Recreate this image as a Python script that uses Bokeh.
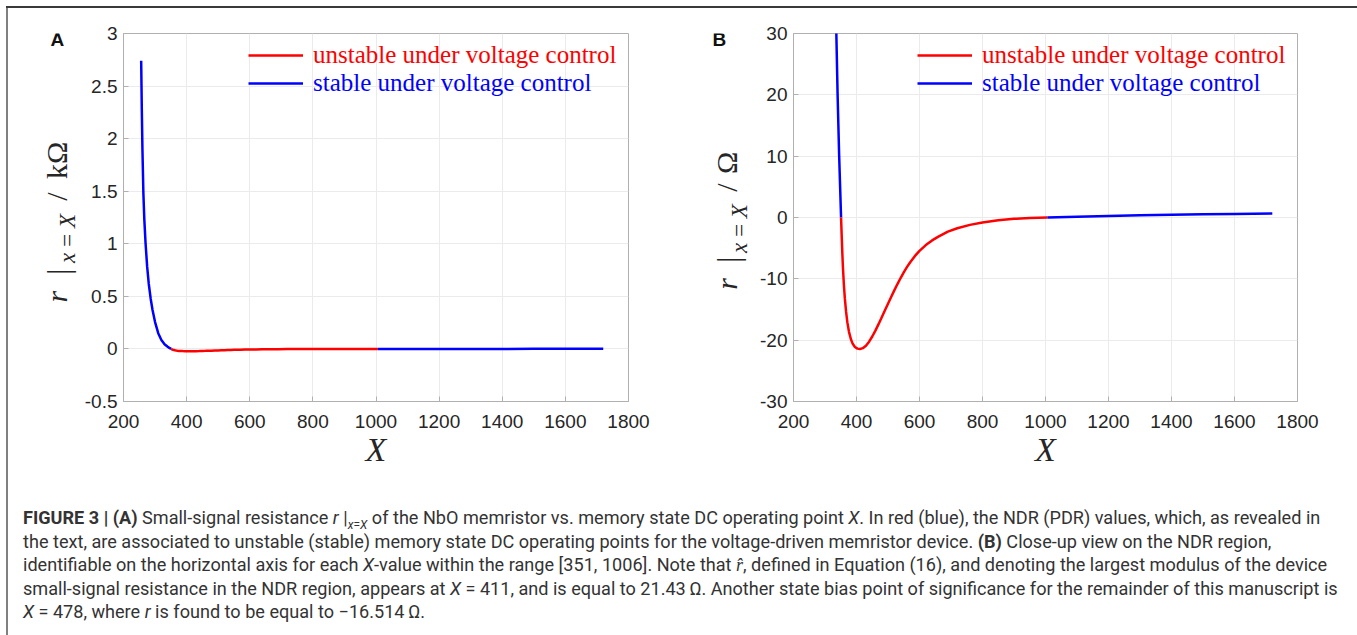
import math
from bokeh.plotting import figure
from bokeh.models import Range1d, FixedTicker, Label, Legend, LegendItem, Div
from bokeh.layouts import row, column
from bokeh.embed import file_html
from bokeh.resources import INLINE
from bokeh.core.properties import value

# ---------------- data (small-signal resistance r, in Ohm) ----------------
# PDR branch left of the NDR region (stable, blue)
x_pdr_left = [256, 258, 260, 263, 266, 270, 275, 280, 286, 292, 300, 310, 320, 330, 340, 345, 351]
r_pdr_left = [2740, 2280, 1900, 1480, 1230, 1000, 780, 620, 480, 370, 255, 150, 85, 45, 20, 10, 0]
# NDR branch (unstable, red)
x_ndr = [351, 353, 355, 357, 360, 363, 367, 371, 376, 382, 388, 395, 403, 411, 420, 430, 440,
         450, 460, 470, 478, 490, 500, 510, 520, 530, 540, 550, 560, 570, 585, 600, 620, 640,
         660, 690, 720, 760, 800, 850, 900, 950, 1006]
r_ndr = [0, -3.0, -5.8, -8.2, -11.0, -13.2, -15.4, -17.1, -18.6, -19.8, -20.6, -21.1, -21.38,
         -21.43, -21.3, -20.9, -20.25, -19.4, -18.45, -17.39, -16.514, -15.17, -14.05, -12.95,
         -11.88, -10.85, -9.87, -8.95, -8.10, -7.33, -6.31, -5.44, -4.50, -3.74, -3.12, -2.30,
         -1.75, -1.20, -0.80, -0.45, -0.22, -0.08, 0]
# PDR branch right of the NDR region (stable, blue)
x_pdr_right = [1006, 1100, 1200, 1300, 1400, 1500, 1600, 1720]
r_pdr_right = [0, 0.13, 0.25, 0.35, 0.44, 0.52, 0.59, 0.67]

x_ticks = [200, 400, 600, 800, 1000, 1200, 1400, 1600, 1800]
y_ticks_A = [-0.5, 0, 0.5, 1, 1.5, 2, 2.5, 3]
y_labels_A = ["-0.5", "0", "0.5", "1", "1.5", "2", "2.5", "3"]
y_ticks_B = [-30, -20, -10, 0, 10, 20, 30]
y_labels_B = ["-30", "-20", "-10", "0", "10", "20", "30"]

legend_labels = ["unstable under voltage control", "stable under voltage control"]
RED, BLUE = "#ff0000", "#0000ff"

TICK_FONT = "Liberation Sans"
SERIF = "Liberation Serif"
H = 470
TOP, BOTTOM = 33, 65          # frame margins shared by every canvas of the row


def make_panel(width, left, right, x_rng, y_rng, yticks, ylabels, scale):
    p = figure(width=width, height=H, x_range=Range1d(*x_rng), y_range=Range1d(*y_rng),
               output_backend="svg", toolbar_location=None, title=None,
               min_border_left=left, min_border_right=right,
               min_border_top=TOP, min_border_bottom=BOTTOM)
    p.border_fill_alpha = 0
    p.background_fill_color = "white"
    p.outline_line_color = "#b0b0b0"
    p.outline_line_width = 1
    p.xaxis.ticker = FixedTicker(ticks=x_ticks)
    p.yaxis.ticker = FixedTicker(ticks=yticks)
    p.yaxis.major_label_overrides = dict(zip(yticks, ylabels))
    p.xaxis.major_label_overrides = {t: str(t) for t in x_ticks}
    for ax in (p.xaxis[0], p.yaxis[0]):
        ax.axis_line_color = "#b0b0b0"
        ax.major_tick_line_color = "#b0b0b0"
        ax.major_tick_in = 5
        ax.major_tick_out = 0
        ax.minor_tick_line_color = None
        ax.major_label_text_font = TICK_FONT
        ax.major_label_text_font_size = "19px"
        ax.major_label_text_color = "#262626"
    p.xaxis.major_label_standoff = 13
    p.yaxis.major_label_standoff = 6
    p.xaxis.axis_label = "X"
    p.xaxis.axis_label_text_font = SERIF
    p.xaxis.axis_label_text_font_style = "italic"
    p.xaxis.axis_label_text_font_size = "34px"
    p.xaxis.axis_label_text_color = "#262626"
    p.xaxis.axis_label_standoff = 0
    p.grid.grid_line_color = "#ebebeb"
    p.grid.grid_line_width = 1

    s = scale
    rb1 = p.line(list(x_pdr_left), [v * s for v in r_pdr_left], line_color=BLUE, line_width=2.5)
    rr = p.line(list(x_ndr), [v * s for v in r_ndr], line_color=RED, line_width=2.5)
    p.line(list(x_pdr_right), [v * s for v in r_pdr_right], line_color=BLUE, line_width=2.5)
    return p, rr, rb1


def add_legends(p, rr, rb, x_off, vy_list):
    for rend, lab, col, vy in ((rr, legend_labels[0], RED, vy_list[0]),
                               (rb, legend_labels[1], BLUE, vy_list[1])):
        lg = Legend(items=[LegendItem(label=value(lab), renderers=[rend])],
                    location=(x_off, vy), border_line_alpha=0, background_fill_alpha=0,
                    padding=0, margin=0, spacing=0, glyph_width=55, glyph_height=28,
                    label_height=28, label_standoff=10, label_text_font=SERIF,
                    label_text_font_size="25px", label_text_color=col,
                    label_text_baseline="middle")
        p.add_layout(lg)


def label_strip(width, pieces, letter, letter_x):
    """Narrow canvas left of a panel that carries the rotated y-axis title and panel letter.
    Its frame is aligned by the row layout with the panel frames, so its y range is set so
    that one data unit equals one pixel, measured upward from the bottom of the canvas.
    Each piece: (text, style, size, centre x, start y) in canvas pixels."""
    s = figure(width=width, height=H, x_range=Range1d(0, width),
               y_range=Range1d(BOTTOM, H - TOP),
               output_backend="svg", toolbar_location=None, title=None,
               x_axis_type=None, y_axis_type=None,
               min_border_left=0, min_border_right=0,
               min_border_top=TOP, min_border_bottom=BOTTOM)
    s.grid.visible = False
    s.outline_line_color = None
    s.background_fill_alpha = 0
    s.border_fill_alpha = 0
    for text, style, size, px, py in pieces:
        s.add_layout(Label(x=px, y=H - py, text=text, angle=math.pi / 2,
                           text_font=SERIF, text_font_style=style, text_font_size=size,
                           text_align="left", text_baseline="middle",
                           text_color="#262626"))
    s.add_layout(Label(x=letter_x, y=H - 39, text=letter, text_font=TICK_FONT,
                       text_font_style="bold", text_font_size="19px", text_color="#111111",
                       text_align="left", text_baseline="middle"))
    return s


# ---------------- panel A ----------------
SA = 80
pA, rrA, rbA = make_panel(677 - SA, 123 - SA, 49, (200, 1800), (-0.5, 3), y_ticks_A, y_labels_A, 0.001)
add_legends(pA, rrA, rbA, 125, [(H - BOTTOM - TOP) - 40, (H - BOTTOM - TOP) - 68])
sA = label_strip(SA, [
    ("r", "italic", "30px", 56, 305),
    ("|", "normal", "32px", 57, 277),
    ("x\u2009=\u2009X", "italic", "23px", 67, 265),
    ("/", "normal", "30px", 56, 202),
    ("k\u03a9", "normal", "30px", 56, 180),
], "A", 50)

# ---------------- panel B ----------------
SB = 80
pB, rrB, rbB = make_panel(680 - SB, 116 - SB, 60, (200, 1800), (-30, 30), y_ticks_B, y_labels_B, 1.0)
add_legends(pB, rrB, rbB, 124, [(H - BOTTOM - TOP) - 40, (H - BOTTOM - TOP) - 68])
oB = 677
sB = label_strip(SB, [
    ("r", "italic", "30px", 726 - oB, 292),
    ("|", "normal", "32px", 727 - oB, 265),
    ("x\u2009=\u2009X", "italic", "23px", 739 - oB, 255),
    ("/", "normal", "30px", 726 - oB, 193),
    ("\u03a9", "normal", "30px", 726 - oB, 175),
], "B", 712 - oB)

# ---------------- caption ----------------
cap_lines = [
    "<b>FIGURE 3 | (A)</b> Small-signal resistance <i>r</i> |<sub style='font-size:12px; line-height:0'><i>x</i>=<i>X</i></sub> "
    "of the NbO memristor vs. memory state DC operating point <i>X</i>. In red (blue), the NDR (PDR) values, which, as revealed in",
    "the text, are associated to unstable (stable) memory state DC operating points for the voltage-driven memristor device. "
    "<b>(B)</b> Close-up view on the NDR region,",
    "identifiable on the horizontal axis for each <i>X</i>-value within the range [351, 1006]. Note that <i>r\u0302</i>, "
    "defined in Equation (16), and denoting the largest modulus of the device",
    "small-signal resistance in the NDR region, appears at <i>X</i> = 411, and is equal to 21.43\u2009\u03a9. "
    "Another state bias point of significance for the remainder of this manuscript is",
    "<i>X</i> = 478, where <i>r</i> is found to be equal to \u221216.514\u2009\u03a9.",
]
cap_html = ("<div style=\"font-family:Roboto; font-size:18.1px; line-height:23.5px; color:#333333; "
            "white-space:nowrap; padding:31px 0 0 18px;\">" + "<br>".join(cap_lines) + "</div>")
cap = Div(text=cap_html, width=1357, height=165)

frame_css = ("inset 0 6px 0 0 #ffffff, inset 6px 0 0 0 #ffffff, inset -2px 0 0 0 #ffffff, "
             "inset 0 8px 0 0 #3a3a3a, inset 8px 0 0 0 #808080, inset -4px 0 0 0 #808080")
layout = column(row(sA, pA, sB, pB), cap, styles={"box-shadow": frame_css})

open("out.html", "w").write(file_html(layout, INLINE))
